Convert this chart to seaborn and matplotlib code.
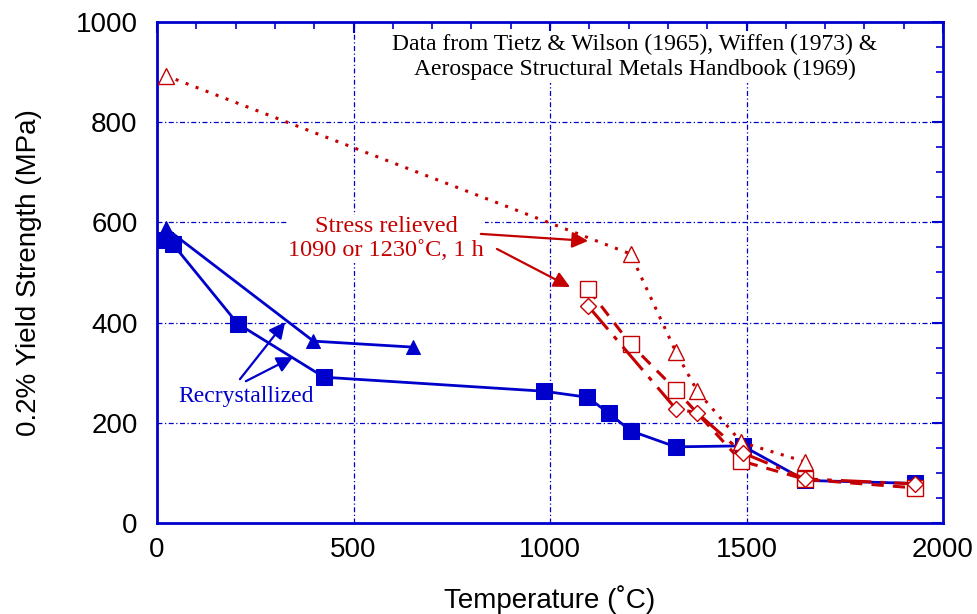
import numpy as np
import pandas as pd
import matplotlib
matplotlib.use("Agg")
import matplotlib.pyplot as plt
import seaborn as sns

# data
recx_sq_T = [20, 40, 205, 425, 985, 1095, 1150, 1205, 1320, 1490, 1650, 1930]
recx_sq_y = [565, 557, 398, 291, 263, 251, 219, 184, 152, 154, 85, 79]
recx_tri_T = [23, 398, 652]
recx_tri_y = [588, 363, 351]

sr_tri_T = [22, 1205, 1320, 1375, 1487, 1650]
sr_tri_y = [893, 537, 342, 263, 161, 122]
sr_sq_T = [1097, 1205, 1320, 1486, 1650, 1930]
sr_sq_y = [467, 357, 266, 124, 87, 70]
sr_dia_T = [1097, 1320, 1374, 1490, 1650, 1930]
sr_dia_y = [433, 228, 220, 140, 88, 78]

blue = "#0000cc"
red = "#c40000"

sns.set_style("white")
plt.rcParams["font.family"] = ["Liberation Sans", "DejaVu Sans"]
plt.rcParams["text.color"] = "black"
plt.rcParams["axes.labelcolor"] = "black"
plt.rcParams["xtick.labelcolor"] = "black"
plt.rcParams["ytick.labelcolor"] = "black"

fig = plt.figure(figsize=(9.77, 6.14), dpi=100)
ax = fig.add_axes([0.1607, 0.1482, 0.8045, 0.816])

# grid
for gx in [500, 1000, 1500]:
    ax.axvline(gx, color=blue, lw=0.9, ls=(0, (4, 2, 1, 2)), zorder=0)
for gy in [200, 400, 600, 800]:
    ax.axhline(gy, color=blue, lw=0.9, ls=(0, (4, 2, 1, 2)), zorder=0)

# recrystallized
sns.lineplot(x=recx_sq_T, y=recx_sq_y, ax=ax, sort=False, estimator=None,
             color=blue, lw=2, marker="s", markersize=11, markeredgecolor=blue,
             markerfacecolor=blue, zorder=3)
sns.lineplot(x=recx_tri_T, y=recx_tri_y, ax=ax, sort=False, estimator=None,
             color=blue, lw=2, marker="^", markersize=10, markeredgecolor=blue,
             markerfacecolor=blue, zorder=3)

# stress relieved
sns.lineplot(x=sr_tri_T, y=sr_tri_y, ax=ax, sort=False, estimator=None,
             color=red, lw=2.2, linestyle=(0, (1, 2.5)), marker="^", markersize=11,
             markeredgecolor=red, markerfacecolor="white", markeredgewidth=1, zorder=4)
sns.lineplot(x=sr_sq_T, y=sr_sq_y, ax=ax, sort=False, estimator=None,
             color=red, lw=2.2, linestyle=(0, (4, 3)), marker="s", markersize=12,
             markeredgecolor=red, markerfacecolor="white", markeredgewidth=1, zorder=4)
sns.lineplot(x=sr_dia_T, y=sr_dia_y, ax=ax, sort=False, estimator=None,
             color=red, lw=2.2, linestyle=(0, (10, 3, 1.5, 3)), marker="D", markersize=8,
             markeredgecolor=red, markerfacecolor="white", markeredgewidth=1, zorder=4)

ax.set_xlim(0, 2000)
ax.set_ylim(0, 1000)
ax.set_xticks([0, 500, 1000, 1500, 2000])
ax.set_yticks([0, 200, 400, 600, 800, 1000])
ax.set_xticks(np.arange(0, 2001, 100), minor=True)
ax.set_yticks(np.arange(0, 1001, 50), minor=True)
ax.tick_params(which="both", direction="in", top=True, right=True, color=blue,
               labelsize=20)
ax.tick_params(axis="x", which="major", pad=10)
ax.tick_params(axis="y", which="major", pad=14)
ax.tick_params(which="major", length=8, width=1.5)
ax.tick_params(which="minor", length=5, width=1.2)
for s in ax.spines.values():
    s.set_color(blue)
    s.set_linewidth(2)

ax.set_xlabel("Temperature (˚C)", fontsize=20, labelpad=16)
ax.set_ylabel("0.2% Yield Strength (MPa)", fontsize=20, labelpad=24)

serif = ["Liberation Serif", "DejaVu Serif"]
ax.text(1216, 930, "Data from Tietz & Wilson (1965), Wiffen (1973) &\nAerospace Structural Metals Handbook (1969)",
        ha="center", va="center", fontsize=17, family=serif, linespacing=1.25,
        bbox=dict(facecolor="white", edgecolor="none", pad=2), zorder=5)

ax.text(583, 567, "Stress relieved\n1090 or 1230˚C, 1 h", color=red, ha="center",
        va="center", fontsize=17.5, family=serif, linespacing=1.18,
        bbox=dict(facecolor="white", edgecolor="none", pad=1), zorder=5)
arrow_r = dict(arrowstyle="-|>", color=red, lw=1.6, mutation_scale=24, shrinkA=0, shrinkB=0)
ax.annotate("", xy=(1097, 563), xytext=(824, 577), arrowprops=arrow_r, zorder=6)
ax.annotate("", xy=(1051, 471), xytext=(865, 547), arrowprops=arrow_r, zorder=6)

ax.text(226, 253, "Recrystallized", color=blue, ha="center", va="center",
        fontsize=17, family=serif, zorder=5)
arrow_b = dict(arrowstyle="-|>", color=blue, lw=1.6, mutation_scale=24, shrinkA=0, shrinkB=0)
ax.annotate("", xy=(326, 401), xytext=(211, 287), arrowprops=arrow_b, zorder=6)
ax.annotate("", xy=(346, 331), xytext=(226, 283), arrowprops=arrow_b, zorder=6)

fig.savefig("out.png", dpi=100)
